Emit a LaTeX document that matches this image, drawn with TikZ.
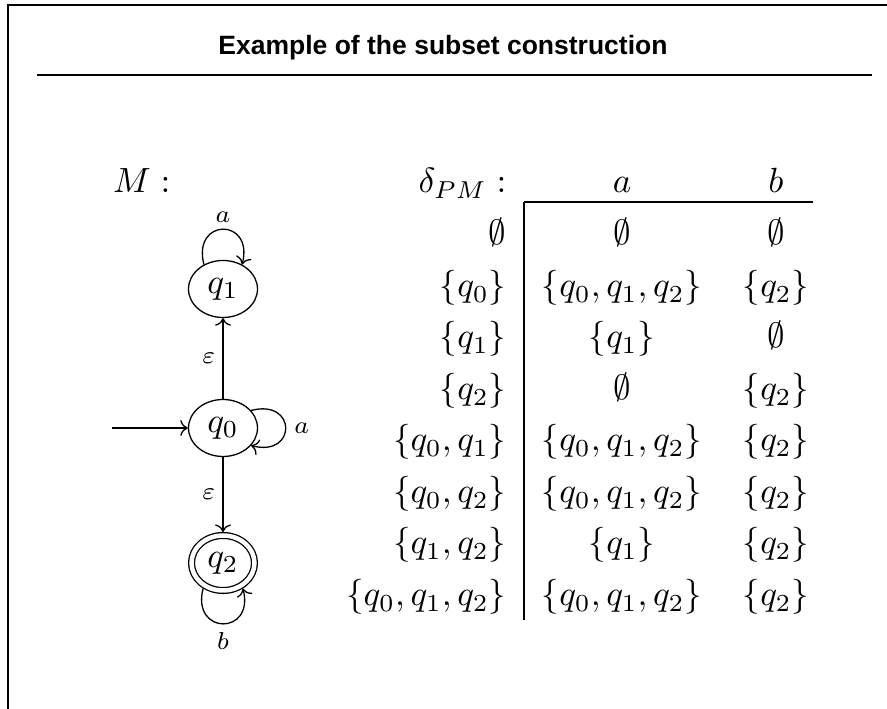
\documentclass[tikz,border=0pt]{standalone}
\usepackage{graphicx}
\usepackage{fontspec}
\newfontfamily\titlefont{Liberation Sans}
\usetikzlibrary{arrows.meta,shapes.geometric}
\newcommand\Mth[1]{\scalebox{3.5}{$#1$}}
\newcommand\Lbl[1]{\scalebox{3.5}{$\scriptstyle #1$}}
\begin{document}
\begin{tikzpicture}[x=1pt,y=1pt,
  titlestyle/.style={font=\titlefont\bfseries\fontsize{26.5}{31}\selectfont, inner sep=0pt},
  mathbig/.style={inner sep=0pt},
  lbl/.style={inner sep=0pt},
  state/.style={ellipse, draw, line width=1.3pt, minimum width=69pt, minimum height=57pt, inner sep=0pt},
  accstate/.style={ellipse, draw, line width=1.3pt, double, double distance=4.5pt, minimum width=63pt, minimum height=55pt, inner sep=0pt, outer sep=3.5pt},
  trans/.style={draw, line width=1.3pt, -{To[scale=1.7]}},
  rulestyle/.style={line width=2pt},
  framestyle/.style={line width=2.4pt}
]
\useasboundingbox (0,0) rectangle (887,709);
% frame and title
\draw[framestyle] (8,-5) -- (8,704) -- (892,704);
\node[titlestyle] (title) at (443,661) {Example of the subset construction};
\draw[rulestyle] (37,634) -- (872,634);
% header
\node[mathbig, anchor=base west] (M) at (113,516) {\Mth{M:}};
\node[mathbig, anchor=base east] (delta) at (506.5,516) {\Mth{\delta_{PM}:}};
\node[mathbig, anchor=base] (ha) at (622,516) {\Mth{a}};
\node[mathbig, anchor=base] (hb) at (776,516) {\Mth{b}};
% table rules
\draw[rulestyle] (524,507) -- (813,507);
\draw[rulestyle] (524,507) -- (524,89);
% rows
\node[mathbig, anchor=base east] (l1) at (506.5,464) {\Mth{\emptyset}};
\node[mathbig, anchor=base] (m1) at (622,464) {\Mth{\emptyset}};
\node[mathbig, anchor=base] (r1) at (776,464) {\Mth{\emptyset}};
\node[mathbig, anchor=base east] (l2) at (506.5,412) {\Mth{\{q_0\}}};
\node[mathbig, anchor=base] (m2) at (622,412) {\Mth{\{q_0,q_1,q_2\}}};
\node[mathbig, anchor=base] (r2) at (776,412) {\Mth{\{q_2\}}};
\node[mathbig, anchor=base east] (l3) at (506.5,361) {\Mth{\{q_1\}}};
\node[mathbig, anchor=base] (m3) at (622,361) {\Mth{\{q_1\}}};
\node[mathbig, anchor=base] (r3) at (776,361) {\Mth{\emptyset}};
\node[mathbig, anchor=base east] (l4) at (506.5,309) {\Mth{\{q_2\}}};
\node[mathbig, anchor=base] (m4) at (622,309) {\Mth{\emptyset}};
\node[mathbig, anchor=base] (r4) at (776,309) {\Mth{\{q_2\}}};
\node[mathbig, anchor=base east] (l5) at (506.5,258) {\Mth{\{q_0,q_1\}}};
\node[mathbig, anchor=base] (m5) at (622,258) {\Mth{\{q_0,q_1,q_2\}}};
\node[mathbig, anchor=base] (r5) at (776,258) {\Mth{\{q_2\}}};
\node[mathbig, anchor=base east] (l6) at (506.5,206) {\Mth{\{q_0,q_2\}}};
\node[mathbig, anchor=base] (m6) at (622,206) {\Mth{\{q_0,q_1,q_2\}}};
\node[mathbig, anchor=base] (r6) at (776,206) {\Mth{\{q_2\}}};
\node[mathbig, anchor=base east] (l7) at (506.5,155) {\Mth{\{q_1,q_2\}}};
\node[mathbig, anchor=base] (m7) at (622,155) {\Mth{\{q_1\}}};
\node[mathbig, anchor=base] (r7) at (776,155) {\Mth{\{q_2\}}};
\node[mathbig, anchor=base east] (l8) at (506.5,103) {\Mth{\{q_0,q_1,q_2\}}};
\node[mathbig, anchor=base] (m8) at (622,103) {\Mth{\{q_0,q_1,q_2\}}};
\node[mathbig, anchor=base] (r8) at (776,103) {\Mth{\{q_2\}}};
% automaton
\node[state] (q1) at (223,420) {\Mth{q_1}};
\node[state] (q0) at (223,281) {\Mth{q_0}};
\node[accstate] (q2) at (223,146) {\Mth{q_2}};
\coordinate (start) at (112,281);
\draw[trans] (start) -- (q0);
\draw[trans] (q0) -- node[lbl, left=7pt] (e1) {\Lbl{\varepsilon}} (q1);
\draw[trans] (q0) -- node[lbl, left=7pt] (e2) {\Lbl{\varepsilon}} (q2);
\draw[trans] (q1.128) .. controls +(-12,47) and +(12,47) .. (q1.52) node[lbl, pos=0.5, above=6pt] (la1) {\Lbl{a}};
\draw[trans] (q0.32) .. controls +(46,12) and +(46,-12) .. (q0.-32) node[lbl, pos=0.5, right=8pt] (la0) {\Lbl{a}};
\draw[trans] (q2.-128) .. controls +(-12,-47) and +(12,-47) .. (q2.-52) node[lbl, pos=0.5, below=8pt] (lb2) {\Lbl{b}};
\end{tikzpicture}
\end{document}
